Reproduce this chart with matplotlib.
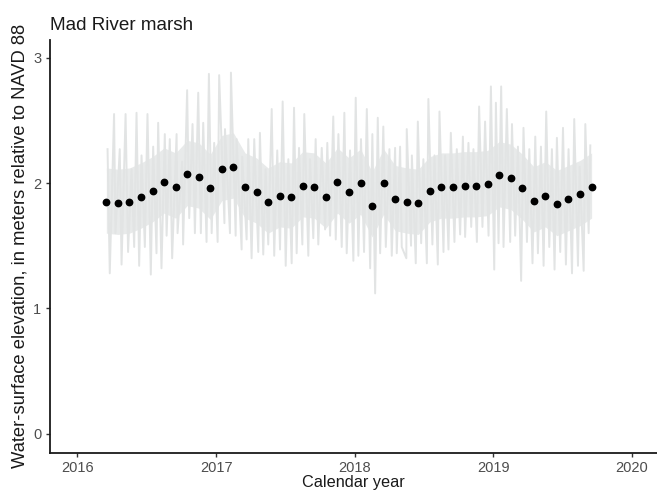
import matplotlib
matplotlib.use("Agg")
import matplotlib.pyplot as plt
import numpy as np

plt.rcParams['font.family'] = ['Liberation Sans', 'DejaVu Sans']

# ---- data (decimal years) ----
month_dates = [2016 + (m - 0.5) / 12 for m in range(3, 13)] + \
              [2017 + (m - 0.5) / 12 for m in range(1, 13)] + \
              [2018 + (m - 0.5) / 12 for m in range(1, 13)] + \
              [2019 + (m - 0.5) / 12 for m in range(1, 10)]
monthly_mean = [1.85, 1.84, 1.85, 1.89, 1.94, 2.01, 1.97, 2.07, 2.05, 1.96,
                2.11, 2.13, 1.97, 1.93, 1.85, 1.90, 1.89, 1.98, 1.97, 1.89, 2.01, 1.93,
                2.00, 1.82, 2.00, 1.87, 1.85, 1.84, 1.94, 1.97, 1.97, 1.98, 1.98, 1.99,
                2.06, 2.04, 1.96, 1.86, 1.90, 1.83, 1.87, 1.91, 1.97]
core_high = [2.12, 2.11, 2.12, 2.16, 2.21, 2.28, 2.24, 2.34, 2.32, 2.23,
             2.38, 2.40, 2.24, 2.20, 2.12, 2.17, 2.16, 2.25, 2.24, 2.16, 2.28, 2.20,
             2.27, 2.09, 2.27, 2.14, 2.12, 2.11, 2.21, 2.24, 2.24, 2.25, 2.25, 2.26,
             2.33, 2.31, 2.23, 2.13, 2.17, 2.10, 2.14, 2.18, 2.24]
core_low = [1.60, 1.59, 1.60, 1.64, 1.69, 1.76, 1.72, 1.82, 1.80, 1.71,
            1.86, 1.88, 1.72, 1.68, 1.60, 1.65, 1.64, 1.73, 1.72, 1.64, 1.76, 1.68,
            1.75, 1.57, 1.75, 1.62, 1.60, 1.59, 1.69, 1.72, 1.72, 1.73, 1.73, 1.74,
            1.81, 1.79, 1.71, 1.61, 1.65, 1.58, 1.62, 1.66, 1.72]

high_dates = [2016.217, 2016.264, 2016.305, 2016.347, 2016.390, 2016.426, 2016.462, 2016.505,
              2016.546, 2016.582, 2016.630, 2016.666, 2016.715, 2016.755, 2016.791, 2016.830,
              2016.871, 2016.907, 2016.948, 2016.986, 2017.022, 2017.064, 2017.107, 2017.148,
              2017.188, 2017.232, 2017.275, 2017.316, 2017.357, 2017.401, 2017.441, 2017.480,
              2017.521, 2017.562, 2017.598, 2017.636, 2017.677, 2017.718, 2017.762, 2017.802,
              2017.845, 2017.882, 2017.925, 2017.966, 2018.007, 2018.045, 2018.087, 2018.127,
              2018.166, 2018.206, 2018.250, 2018.291, 2018.327, 2018.375, 2018.412, 2018.455,
              2018.495, 2018.531, 2018.575, 2018.611, 2018.652, 2018.693, 2018.736, 2018.780,
              2018.820, 2018.856, 2018.897, 2018.940, 2018.982, 2019.018, 2019.056, 2019.097,
              2019.134, 2019.177, 2019.217, 2019.259, 2019.302, 2019.343, 2019.381, 2019.422,
              2019.458, 2019.502, 2019.542, 2019.583, 2019.622, 2019.663, 2019.699]
high_vals = [2.27, 2.55, 2.27, 2.55, 2.11, 2.56, 2.22, 2.55,
             2.29, 2.48, 2.39, 2.35, 2.39, 2.17, 2.74, 2.47,
             2.72, 2.48, 2.87, 2.32, 2.86, 2.43, 2.88, 2.35,
             2.21, 2.35, 2.35, 2.40, 2.11, 2.59, 2.26, 2.65,
             2.19, 2.60, 2.28, 2.55, 2.19, 2.35, 2.28, 2.32,
             2.53, 2.39, 2.56, 2.26, 2.68, 2.35, 2.59, 2.39,
             2.52, 2.45, 2.27, 2.28, 2.29, 2.43, 2.22, 2.49,
             2.19, 2.67, 2.22, 2.57, 2.22, 2.40, 2.27, 2.37,
             2.32, 2.27, 2.61, 2.49, 2.77, 2.64, 2.77, 2.59,
             2.47, 2.29, 2.44, 2.27, 2.37, 2.29, 2.57, 2.27,
             2.36, 2.44, 2.27, 2.51, 2.13, 2.47, 2.30]

low_dates = [2016.233, 2016.274, 2016.318, 2016.365, 2016.409, 2016.445, 2016.486, 2016.529,
             2016.570, 2016.606, 2016.643, 2016.683, 2016.722, 2016.762, 2016.806, 2016.847,
             2016.890, 2016.931, 2016.968, 2017.011, 2017.060, 2017.100, 2017.141, 2017.184,
             2017.220, 2017.256, 2017.304, 2017.340, 2017.376, 2017.419, 2017.461, 2017.502,
             2017.545, 2017.581, 2017.622, 2017.665, 2017.701, 2017.737, 2017.786, 2017.822,
             2017.863, 2017.906, 2017.942, 2017.990, 2018.026, 2018.067, 2018.111, 2018.147,
             2018.183, 2018.224, 2018.267, 2018.303, 2018.339, 2018.372, 2018.406, 2018.440,
             2018.479, 2018.520, 2018.560, 2018.599, 2018.640, 2018.676, 2018.719, 2018.760,
             2018.796, 2018.840, 2018.881, 2018.921, 2018.965, 2019.006, 2019.037, 2019.073,
             2019.121, 2019.157, 2019.200, 2019.242, 2019.282, 2019.321, 2019.362, 2019.403,
             2019.441, 2019.482, 2019.523, 2019.567, 2019.610, 2019.651, 2019.687]
low_vals = [1.28, 1.60, 1.35, 1.45, 1.49, 1.34, 1.49, 1.27,
            1.44, 1.32, 1.58, 1.40, 1.60, 1.51, 1.72, 1.60,
            1.60, 1.53, 1.60, 1.53, 1.68, 1.60, 1.58, 1.47,
            1.55, 1.40, 1.45, 1.43, 1.51, 1.42, 1.47, 1.34,
            1.36, 1.44, 1.51, 1.42, 1.56, 1.51, 1.63, 1.58,
            1.55, 1.49, 1.44, 1.38, 1.42, 1.45, 1.32, 1.12,
            1.44, 1.49, 1.42, 1.44, 1.49, 1.40, 1.50, 1.36,
            1.52, 1.36, 1.51, 1.35, 1.45, 1.47, 1.53, 1.59,
            1.57, 1.65, 1.53, 1.65, 1.58, 1.31, 1.52, 1.49,
            1.53, 1.58, 1.22, 1.53, 1.36, 1.44, 1.34, 1.49,
            1.31, 1.45, 1.35, 1.28, 1.34, 1.30, 1.60]

x_ticks = [2016, 2017, 2018, 2019, 2020]
y_ticks = [0, 1, 2, 3]

# ---- figure ----
fig = plt.figure(figsize=(6.57, 4.91), dpi=100)
ax = fig.add_axes([0.0757, 0.078, 0.9243, 0.8405])

grey = '#e2e4e4'
ax.fill_between(month_dates, core_low, core_high, color='#e8eaea', lw=0, zorder=1)

spike_d = np.array(high_dates + low_dates)
spike_v = np.array(high_vals + low_vals)
order = np.argsort(spike_d)
ax.plot(spike_d[order], spike_v[order], color=grey, lw=1.4, zorder=1)

ax.plot(month_dates, monthly_mean, 'o', color='black', markersize=4.6, zorder=3)

ax.set_xlim(2015.8, 2020.18)
ax.set_ylim(-0.15, 3.14)
ax.set_xticks(x_ticks)
ax.set_xticklabels([str(t) for t in x_ticks])
ax.set_yticks(y_ticks)

for s in ['top', 'right']:
    ax.spines[s].set_visible(False)
for s in ['left', 'bottom']:
    ax.spines[s].set_color('#1a1a1a')
    ax.spines[s].set_linewidth(1.3)

ax.tick_params(axis='both', length=3, width=1, color='#333333',
               labelcolor='#4d4d4d', labelsize=10.5, pad=3)

ax.set_xlabel('Calendar year', fontsize=11.7, color='#1a1a1a', labelpad=0)
ax.set_ylabel('Water-surface elevation, in meters relative to NAVD 88',
              fontsize=13.2, color='#1a1a1a', labelpad=3)
ax.set_title('Mad River marsh', loc='left', fontsize=13.6, color='#1a1a1a', pad=7)

fig.savefig('out.png', dpi=100)
